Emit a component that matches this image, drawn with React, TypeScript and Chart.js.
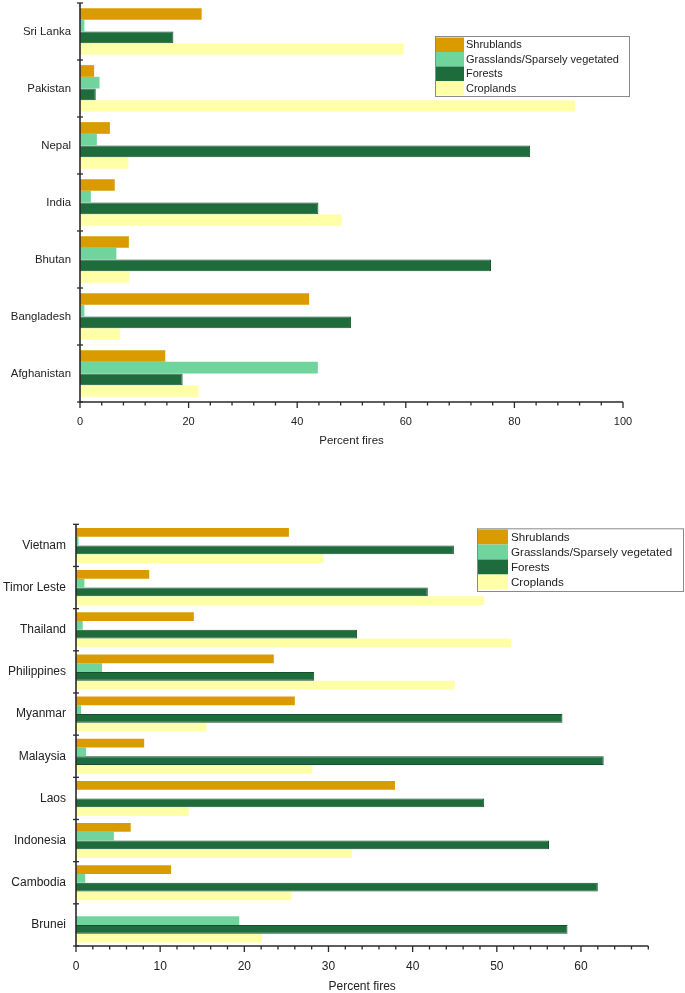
import React, { useEffect, useRef } from "react";
import { Chart, registerables } from "chart.js";

Chart.register(...registerables);

const FONT = "'Liberation Sans', Arial, Helvetica, sans-serif";

// ---- series ----
const seriesNames = ["Shrublands", "Grasslands/Sparsely vegetated", "Forests", "Croplands"];
const seriesColors = ["#D99B00", "#70D59C", "#1E6B3C", "#FFFFA8"];
const seriesBorders = ["#D99B00", "#70D59C", "#15502C", "#FFFFA8"];

// ---- South Asia (top panel) ----
const southAsiaCountries = ["Sri Lanka", "Pakistan", "Nepal", "India", "Bhutan", "Bangladesh", "Afghanistan"];
const southAsiaShrublands = [22.4, 2.6, 5.5, 6.4, 9.0, 42.2, 15.7];
const southAsiaGrasslands = [0.8, 3.6, 3.1, 2.0, 6.7, 0.8, 43.8];
const southAsiaForests = [17.2, 2.9, 82.9, 43.9, 75.7, 49.9, 18.9];
const southAsiaCroplands = [59.6, 91.2, 8.9, 48.2, 9.0, 7.4, 21.8];
const southAsiaXMax = 100;
const southAsiaMajorStep = 20;
const southAsiaMinorStep = 4;

// ---- South-East Asia (bottom panel) ----
const seAsiaCountries = ["Vietnam", "Timor Leste", "Thailand", "Philippines", "Myanmar", "Malaysia", "Laos", "Indonesia", "Cambodia", "Brunei"];
const seAsiaShrublands = [25.3, 8.7, 14.0, 23.5, 26.0, 8.1, 37.9, 6.5, 11.3, 0];
const seAsiaGrasslands = [0.3, 1.0, 0.8, 3.1, 0.6, 1.2, 0, 4.5, 1.1, 19.4];
const seAsiaForests = [44.9, 41.8, 33.4, 28.3, 57.8, 62.7, 48.5, 56.2, 62.0, 58.4];
const seAsiaCroplands = [29.4, 48.5, 51.7, 45.0, 15.5, 28.1, 13.4, 32.8, 25.6, 22.1];
const seAsiaXMax = 68;
const seAsiaMajorStep = 10;
const seAsiaMinorStep = 2;

const axisTitle = "Percent fires";

type PanelCfg = {
  width: number;
  height: number;
  area: { left: number; top: number; right: number; bottom: number };
  labels: string[];
  values: number[][];
  xMax: number;
  major: number;
  minor: number;
  catPct: number;
  yFont: number;
  xFont: number;
  titleFont: number;
  xTickPad: number;
  yTickPad: number;
  legend: { x: number; y: number; w: number; h: number; rowTop: number; rowH: number; swatchW: number; textX: number; font: number };
};

function makeDecor(cfg: PanelCfg) {
  return {
    id: "decor",
    afterDatasetsDraw(chart: any) {
      const { ctx, chartArea: a } = chart;
      const xs = chart.scales.x;
      ctx.save();
      ctx.strokeStyle = "#2a2a2a";
      ctx.lineWidth = 1.6;
      ctx.beginPath();
      ctx.moveTo(a.left, a.top);
      ctx.lineTo(a.left, a.bottom);
      ctx.lineTo(a.right, a.bottom);
      ctx.stroke();
      ctx.lineWidth = 1.3;
      // x ticks
      for (let v = 0; v <= cfg.xMax + 1e-6; v += cfg.minor) {
        const px = xs.getPixelForValue(v);
        const isMajor = Math.abs(v / cfg.major - Math.round(v / cfg.major)) < 1e-6;
        ctx.beginPath();
        ctx.moveTo(px, a.bottom);
        ctx.lineTo(px, a.bottom + (isMajor ? 6 : 3.5));
        ctx.stroke();
      }
      // y cross ticks at category boundaries
      const n = chart.data.labels.length;
      for (let i = 0; i <= n; i++) {
        const py = a.top + (i * (a.bottom - a.top)) / n;
        ctx.beginPath();
        ctx.moveTo(a.left - 3, py);
        ctx.lineTo(a.left + 3, py);
        ctx.stroke();
      }
      // legend
      const L = cfg.legend;
      ctx.fillStyle = "#ffffff";
      ctx.fillRect(L.x, L.y, L.w, L.h);
      chart.data.datasets.forEach((ds: any, i: number) => {
        const ry = L.rowTop + i * L.rowH;
        ctx.fillStyle = ds.backgroundColor;
        ctx.fillRect(L.x + 1, ry, L.swatchW, L.rowH);
        ctx.fillStyle = "#222222";
        ctx.font = `${L.font}px ${FONT}`;
        ctx.textAlign = "left";
        ctx.textBaseline = "middle";
        ctx.fillText(ds.label, L.textX, ry + L.rowH / 2 + 0.5);
      });
      ctx.strokeStyle = "#8a8a8a";
      ctx.lineWidth = 1;
      ctx.strokeRect(L.x + 0.5, L.y + 0.5, L.w, L.h);
      ctx.restore();
    },
  };
}

function Panel({ cfg, top }: { cfg: PanelCfg; top: number }) {
  const ref = useRef<HTMLCanvasElement | null>(null);
  useEffect(() => {
    const canvas = ref.current;
    if (!canvas) return;
    const a = cfg.area;
    const chart = new Chart(canvas, {
      type: "bar",
      data: {
        labels: cfg.labels,
        datasets: seriesNames.map((name, i) => ({
          label: name,
          data: cfg.values[i],
          backgroundColor: seriesColors[i],
          borderColor: seriesBorders[i],
          borderWidth: i === 2 ? 1 : 0,
          categoryPercentage: cfg.catPct,
          barPercentage: 1,
        })),
      },
      options: {
        indexAxis: "y",
        animation: false,
        responsive: false,
        maintainAspectRatio: false,
        layout: { padding: { left: 0, top: a.top, right: cfg.width - a.right, bottom: 0 } },
        plugins: { legend: { display: false }, tooltip: { enabled: false }, title: { display: false } },
        scales: {
          x: {
            type: "linear",
            min: 0,
            max: cfg.xMax,
            grid: { display: false, drawTicks: false },
            border: { display: false },
            ticks: {
              stepSize: cfg.major,
              padding: cfg.xTickPad,
              color: "#222",
              font: { family: FONT, size: cfg.xFont },
              maxRotation: 0,
            },
            afterBuildTicks: (s: any) => {
              s.ticks = s.ticks.filter((t: any) => Math.abs(t.value % cfg.major) < 1e-6);
            },
            title: {
              display: true,
              text: axisTitle,
              color: "#222",
              font: { family: FONT, size: cfg.titleFont, lineHeight: 1 },
              padding: { top: 0, bottom: cfg.titlePadBottom },
            },
            afterFit: (s: any) => {
              s.height = cfg.height - a.bottom;
              s.paddingLeft = 0;
              s.paddingRight = 0;
            },
          },
          y: {
            type: "category",
            offset: true,
            grid: { display: false, drawTicks: false },
            border: { display: false },
            ticks: { padding: cfg.yTickPad, color: "#222", font: { family: FONT, size: cfg.yFont } },
            afterFit: (s: any) => {
              s.width = a.left;
              s.paddingTop = 0;
              s.paddingBottom = 0;
            },
          },
        },
      },
      plugins: [makeDecor(cfg)],
    } as any);
    return () => chart.destroy();
  }, [cfg]);
  return (
    <canvas
      ref={ref}
      width={cfg.width}
      height={cfg.height}
      style={{ position: "absolute", left: 0, top, width: cfg.width, height: cfg.height, display: "block" }}
    />
  );
}

const topCfg: any = {
  width: 685,
  height: 460,
  area: { left: 80, top: 3, right: 623, bottom: 402 },
  labels: southAsiaCountries,
  values: [southAsiaShrublands, southAsiaGrasslands, southAsiaForests, southAsiaCroplands],
  xMax: southAsiaXMax,
  major: southAsiaMajorStep,
  minor: southAsiaMinorStep,
  catPct: 0.82,
  yFont: 11.4,
  xFont: 11,
  titleFont: 11.5,
  titlePadBottom: 13,
  xTickPad: 13,
  yTickPad: 9,
  legend: { x: 435, y: 36, w: 194, h: 60, rowTop: 37.5, rowH: 14.5, swatchW: 28, textX: 466, font: 11 },
};

const bottomCfg: any = {
  width: 685,
  height: 493,
  area: { left: 76, top: 24.3, right: 648.3, bottom: 446 },
  labels: seAsiaCountries,
  values: [seAsiaShrublands, seAsiaGrasslands, seAsiaForests, seAsiaCroplands],
  xMax: seAsiaXMax,
  major: seAsiaMajorStep,
  minor: seAsiaMinorStep,
  catPct: 0.83,
  yFont: 12,
  xFont: 12,
  titleFont: 12,
  titlePadBottom: 0.3,
  xTickPad: 13,
  yTickPad: 10,
  legend: { x: 477, y: 28.3, w: 206, h: 62.7, rowTop: 29.5, rowH: 15, swatchW: 30, textX: 511, font: 11.6 },
};

export default function App() {
  return (
    <div style={{ position: "absolute", left: 0, top: 0, width: 685, height: 993, background: "#fff", overflow: "hidden" }}>
      <Panel cfg={topCfg} top={0} />
      <Panel cfg={bottomCfg} top={500} />
    </div>
  );
}
